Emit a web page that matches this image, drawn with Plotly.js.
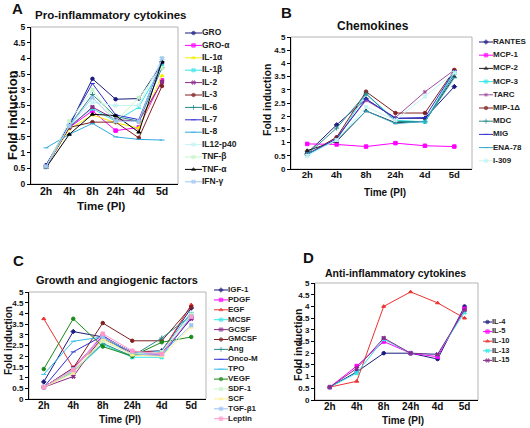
<!DOCTYPE html>
<html>
<head>
<meta charset="utf-8">
<script src="https://cdn.plot.ly/plotly-3.0.1.min.js"></script>
<style>html,body{margin:0;padding:0;background:#fff;}#chart{width:530px;height:428px;}</style>
</head>
<body>
<div id="chart"></div>
<script>
// ---------- DATA ----------
const timeLabels = ['2h', '4h', '8h', '24h', '4d', '5d'];

// A: Pro-inflammatory cytokines
const proNames = ['GRO', 'GRO-α', 'IL-1α', 'IL-1β', 'IL-2', 'IL-3', 'IL-6', 'IL-7', 'IL-8', 'IL12-p40', 'TNF-β', 'TNF-α', 'IFN-γ'];
const proGRO     = [0.60, 1.85, 3.35, 2.70, 2.72, 3.85];
const proGROa    = [0.55, 1.80, 2.33, 1.70, 1.80, 3.30];
const proIL1a    = [0.55, 1.75, 2.20, 1.95, 1.78, 3.45];
const proIL1b    = [0.55, 1.85, 2.40, 2.00, 2.45, 3.75];
const proIL2     = [0.55, 1.80, 2.45, 2.05, 2.00, 3.25];
const proIL3     = [0.55, 1.80, 1.97, 1.97, 1.47, 3.12];
const proIL6     = [0.55, 1.85, 2.85, 2.15, 2.00, 3.70];
const proIL7     = [0.60, 1.90, 3.20, 2.20, 2.05, 3.90];
const proIL8     = [1.15, 1.58, 1.93, 1.50, 1.42, 1.40];
const proIL12    = [0.55, 1.85, 2.60, 2.50, 2.50, 4.00];
const proTNFb    = [0.55, 2.00, 3.00, 2.00, 2.75, 3.70];
const proTNFa    = [0.52, 1.58, 2.22, 2.18, 1.65, 3.90];
const proIFNg    = [0.55, 1.85, 2.75, 2.00, 2.00, 4.00];
const proValues = [proGRO, proGROa, proIL1a, proIL1b, proIL2, proIL3, proIL6, proIL7, proIL8, proIL12, proTNFb, proTNFa, proIFNg];

// B: Chemokines
const cheNames = ['RANTES', 'MCP-1', 'MCP-2', 'MCP-3', 'TARC', 'MIP-1Δ', 'MDC', 'MIG', 'ENA-78', 'I-309'];
const cheRANTES = [0.60, 1.67, 2.65, 1.92, 1.92, 3.12];
const cheMCP1   = [0.95, 0.93, 0.85, 0.98, 0.88, 0.85];
const cheMCP2   = [0.70, 1.05, 2.20, 1.75, 1.80, 3.50];
const cheMCP3   = [0.55, 1.10, 2.85, 1.85, 1.78, 3.70];
const cheTARC   = [0.55, 1.20, 2.60, 1.95, 2.92, 3.75];
const cheMIP1   = [0.55, 1.20, 2.93, 2.12, 2.12, 3.75];
const cheMDC    = [0.55, 1.55, 2.85, 1.80, 1.80, 3.60];
const cheMIG    = [0.55, 1.15, 2.65, 1.92, 1.95, 3.72];
const cheENA78  = [0.55, 1.10, 2.20, 1.72, 1.80, 3.45];
const cheI309   = [0.50, 1.10, 2.35, 1.85, 2.75, 3.65];
const cheValues = [cheRANTES, cheMCP1, cheMCP2, cheMCP3, cheTARC, cheMIP1, cheMDC, cheMIG, cheENA78, cheI309];

// C: Growth and angiogenic factors
const groNames = ['IGF-1', 'PDGF', 'EGF', 'MCSF', 'GCSF', 'GMCSF', 'Ang', 'Onco-M', 'TPO', 'VEGF', 'SDF-1', 'SCF', 'TGF-β1', 'Leptin'];
const groIGF1   = [0.80, 3.15, 2.90, 2.20, 2.25, 4.25];
const groPDGF   = [0.55, 1.45, 2.95, 2.15, 2.10, 3.80];
const groEGF    = [3.75, 1.45, 2.80, 2.20, 2.20, 4.40];
const groMCSF   = [0.55, 1.25, 2.55, 1.95, 1.95, 3.90];
const groGCSF   = [0.55, 1.05, 2.95, 2.15, 2.15, 3.75];
const groGMCSF  = [0.55, 1.45, 3.55, 2.72, 2.72, 4.30];
const groAng    = [0.55, 1.30, 2.60, 2.00, 2.85, 3.90];
const groOncoM  = [0.55, 2.20, 2.95, 2.05, 2.05, 3.80];
const groTPO    = [1.15, 2.70, 2.90, 2.05, 2.25, 4.05];
const groVEGF   = [1.40, 3.75, 2.45, 2.00, 2.65, 2.90];
const groSDF1   = [0.55, 1.30, 2.70, 2.10, 2.20, 3.95];
const groSCF    = [0.55, 1.20, 2.80, 2.05, 2.00, 3.35];
const groTGFb1  = [0.55, 1.40, 2.90, 2.20, 2.10, 3.45];
const groLeptin = [0.55, 1.35, 3.05, 2.25, 2.10, 3.85];
const groValues = [groIGF1, groPDGF, groEGF, groMCSF, groGCSF, groGMCSF, groAng, groOncoM, groTPO, groVEGF, groSDF1, groSCF, groTGFb1, groLeptin];

// D: Anti-inflammatory cytokines
const antiNames = ['IL-4', 'IL-5', 'IL-10', 'IL-13', 'IL-15'];
const antiIL4  = [0.55, 1.20, 2.00, 2.00, 1.75, 4.00];
const antiIL5  = [0.55, 1.45, 2.50, 2.00, 1.85, 3.90];
const antiIL10 = [0.55, 0.80, 4.00, 4.62, 4.15, 3.50];
const antiIL13 = [0.55, 1.15, 2.60, 2.00, 1.95, 3.75];
const antiIL15 = [0.55, 1.35, 2.65, 2.00, 1.95, 3.85];
const antiValues = [antiIL4, antiIL5, antiIL10, antiIL13, antiIL15];

// ---------- STYLES ----------
const proColors = ['#1a1a80', '#ff00ff', '#f5f000', '#33e6e6', '#8a2a8a', '#802020', '#2a8a8a', '#3030d0', '#33aadd', '#c6f4f4', '#c8f5c8', '#000000', '#a0c8f0'];
const proSymbols = ['circle', 'square', 'triangle-up', 'x', 'x', 'circle', 'cross-thin-open', 'line-ew-open', 'line-ew-open', 'x', 'x', 'triangle-up', 'x'];
const cheColors = ['#1a1a80', '#ff00ff', '#222222', '#33e6e6', '#a050a0', '#802020', '#2a8a8a', '#3030d0', '#33aacc', '#c6f4f4'];
const cheSymbols = ['diamond', 'square', 'triangle-up', 'x', 'asterisk-open', 'circle', 'cross-thin-open', 'line-ew-open', 'line-ew-open', 'x'];
const groColors = ['#1a1a80', '#ff00ff', '#ee3030', '#33e6e6', '#8a2a8a', '#802020', '#2a8a8a', '#3030d0', '#33bbee', '#1a8a1a', '#c8f5c8', '#fff090', '#99c4f0', '#ff99cc'];
const groSymbols = ['diamond', 'square', 'triangle-up', 'x', 'x', 'circle', 'cross-thin-open', 'line-ew-open', 'line-ew-open', 'circle', 'x', 'triangle-up', 'x', 'square'];
const antiColors = ['#1a1a80', '#ff00ff', '#ee3030', '#33e6e6', '#8a2a8a'];
const antiSymbols = ['circle', 'square', 'triangle-up', 'x', 'x'];

const W = 530, H = 428;
const FONT = 'Liberation Sans, Arial, sans-serif';

const panels = [
  {names: proNames, vals: proValues, colors: proColors, symbols: proSymbols,
   box: [31, 178, 27, 184], xr: [-0.65, 5.69], tick: 10.5, ytick: 8.5,
   leg: {x: 185, y0: 33, dy: 12.4, len: 17, font: 8.5},
   title: {t: 'Pro-inflammatory cytokines', x: 110, y: 15, s: 11.5},
   letter: {t: 'A', x: 17, y: 8},
   ytitle: {x: 12, y: 115, s: 13}, xtitle: {x: 101, y: 206, s: 11.5}},
  {names: cheNames, vals: cheValues, colors: cheColors, symbols: cheSymbols,
   box: [291, 472, 37, 169], xr: [-0.55, 5.6], tick: 9.5, ytick: 8,
   leg: {x: 479, y0: 42, dy: 13.2, len: 14, font: 8},
   title: {t: 'Chemokines', x: 373, y: 26, s: 12},
   letter: {t: 'B', x: 286, y: 12},
   ytitle: {x: 267, y: 100, s: 10.5}, xtitle: {x: 385, y: 192, s: 10}},
  {names: groNames, vals: groValues, colors: groColors, symbols: groSymbols,
   box: [29, 206, 292, 399], xr: [-0.5, 5.5], tick: 10, ytick: 8,
   leg: {x: 214, y0: 290, dy: 9.9, len: 14, font: 8},
   title: {t: 'Growth and angiogenic factors', x: 117, y: 280, s: 11},
   letter: {t: 'C', x: 18, y: 260},
   ytitle: {x: 8, y: 341, s: 10}, xtitle: {x: 120, y: 419, s: 10}},
  {names: antiNames, vals: antiValues, colors: antiColors, symbols: antiSymbols,
   box: [315, 478, 283, 400], xr: [-0.55, 5.5], tick: 10, ytick: 8,
   leg: {x: 483, y0: 322, dy: 9.6, len: 9, font: 7.5},
   title: {t: 'Anti-inflammatory cytokines', x: 396, y: 273, s: 10.5},
   letter: {t: 'D', x: 308, y: 257},
   ytitle: {x: 298, y: 345, s: 10.5}, xtitle: {x: 403, y: 420, s: 10}}
];

const px = v => v / W;
const py = v => 1 - v / H;

const traces = [];
const layout = {
  width: W, height: H,
  margin: {l: 0, r: 0, t: 0, b: 0},
  paper_bgcolor: '#fff', plot_bgcolor: '#fff',
  showlegend: false,
  font: {family: FONT, color: '#111'},
  annotations: [], shapes: []
};

panels.forEach((p, k) => {
  const n = k + 1;
  const xa = n === 1 ? 'x' : 'x' + n;
  const ya = n === 1 ? 'y' : 'y' + n;
  const xk = n === 1 ? 'xaxis' : 'xaxis' + n;
  const yk = n === 1 ? 'yaxis' : 'yaxis' + n;
  const [x0, x1, y0, y1] = p.box;

  layout[xk] = {
    domain: [px(x0), px(x1)], anchor: ya, type: 'category',
    categoryorder: 'array', categoryarray: timeLabels,
    range: p.xr, showline: true, linecolor: '#000', linewidth: 1,
    ticks: '', showgrid: false, zeroline: false, automargin: false,
    tickfont: {family: FONT, size: p.tick, weight: 'bold', color: '#111'},
    ticklabelstandoff: -3, fixedrange: true
  };
  layout[yk] = {
    domain: [py(y1), py(y0)], anchor: xa, range: [0, 5], dtick: 0.5, tick0: 0,
    showline: true, linecolor: '#000', linewidth: 1, automargin: false,
    ticks: 'outside', ticklen: 3, tickcolor: '#000', showgrid: false, zeroline: false,
    tickfont: {family: FONT, size: p.ytick, weight: 'bold', color: '#111'},
    ticklabelstandoff: 0, fixedrange: true
  };
  layout.shapes.push({type: 'rect', xref: xa + ' domain', yref: ya + ' domain',
    x0: 0, x1: 1, y0: 0, y1: 1, line: {color: '#b4b4b4', width: 1}, layer: 'below'});

  // legend axes
  const ln = 4 + k;
  const lxk = 'xaxis' + (ln + 1), lyk = 'yaxis' + (ln + 1);
  const lxa = 'x' + (ln + 1), lya = 'y' + (ln + 1);
  const cnt = p.names.length;
  const L = p.leg;
  layout[lxk] = {domain: [px(L.x), px(L.x + L.len)], range: [0, 1], anchor: lya, visible: false, fixedrange: true};
  layout[lyk] = {domain: [py(L.y0 + (cnt - 0.5) * L.dy), py(L.y0 - 0.5 * L.dy)], range: [cnt - 0.5, -0.5], anchor: lxa, visible: false, fixedrange: true};

  p.names.forEach((name, i) => {
    traces.push({
      type: 'scatter', mode: 'lines+markers', name: name,
      x: timeLabels, y: p.vals[i], xaxis: xa, yaxis: ya,
      line: {color: p.colors[i], width: 1},
      marker: {color: p.colors[i], symbol: p.symbols[i], size: 3.5,
               line: {color: p.colors[i], width: 1}},
      cliponaxis: false, hoverinfo: 'name+y'
    });
    traces.push({
      type: 'scatter', mode: 'lines+markers+text', showlegend: false,
      x: [0, 0.5, 1], y: [i, i, i], xaxis: lxa, yaxis: lya,
      text: ['', '', name], textposition: 'middle right',
      textfont: {family: FONT, size: L.font, weight: 'bold', color: '#222'},
      line: {color: p.colors[i], width: 1},
      marker: {color: p.colors[i], symbol: p.symbols[i], size: [0, 3.5, 0],
               line: {color: p.colors[i], width: 1}},
      cliponaxis: false, hoverinfo: 'skip'
    });
  });

  const ann = (t, x, y, s, extra) => Object.assign({
    text: '<b>' + t + '</b>', xref: 'paper', yref: 'paper', x: px(x), y: py(y),
    xanchor: 'center', yanchor: 'middle', showarrow: false,
    font: {family: FONT, size: s, color: '#111'}
  }, extra || {});
  layout.annotations.push(ann(p.title.t, p.title.x, p.title.y, p.title.s));
  layout.annotations.push(ann(p.letter.t, p.letter.x, p.letter.y, 15));
  layout.annotations.push(ann('Fold induction', p.ytitle.x, p.ytitle.y, p.ytitle.s, {textangle: -90}));
  layout.annotations.push(ann('Time (PI)', p.xtitle.x, p.xtitle.y, p.xtitle.s));
});

Plotly.newPlot('chart', traces, layout, {staticPlot: true, displayModeBar: false});
</script>
</body>
</html>
